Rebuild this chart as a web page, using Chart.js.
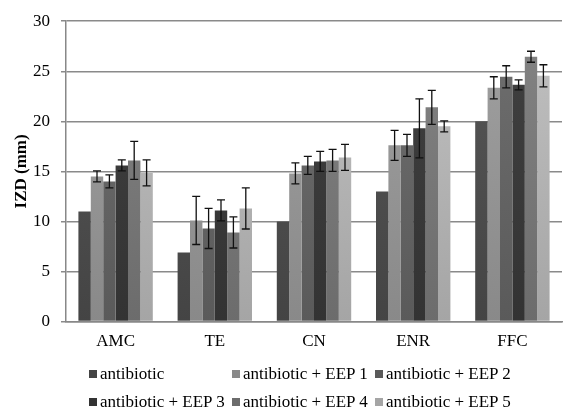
<!DOCTYPE html>
<html>
<head>
<meta charset="utf-8">
<script src="https://cdn.jsdelivr.net/npm/chart.js@4.4.0/dist/chart.umd.min.js"></script>
<style>
  body { margin: 0; background: #fff; }
  #wrap { position: relative; width: 583px; height: 409px; overflow: hidden; }
  #legend { position: absolute; left: 89px; top: 360px; display: grid;
    grid-template-columns: 143px 143px 143px;
    font-family: "Liberation Serif", serif; font-size: 17px; color: #000; }
  #legend span { white-space: nowrap; line-height: 28px; }
  #legend i { display: inline-block; width: 8px; height: 8px; margin-right: 3px; vertical-align: 1px; }
</style>
</head>
<body>
<div id="wrap">
  <canvas id="chart" width="583" height="409"></canvas>
  <div id="legend"></div>
</div>
<script>
// drugs on the x axis
var drugs = ['AMC', 'TE', 'CN', 'ENR', 'FFC'];
var series = ['antibiotic', 'antibiotic + EEP 1', 'antibiotic + EEP 2',
              'antibiotic + EEP 3', 'antibiotic + EEP 4', 'antibiotic + EEP 5'];

// IZD (mm) per series, order AMC, TE, CN, ENR, FFC
var antibiotic = [11.0, 6.9, 10.0, 13.0, 20.0];
var eep1 = [14.5, 10.1, 14.8, 17.6, 23.35];
var eep2 = [14.0, 9.3, 15.6, 17.6, 24.45];
var eep3 = [15.6, 11.1, 16.0, 19.3, 23.65];
var eep4 = [16.1, 8.9, 16.1, 21.4, 26.45];
var eep5 = [14.85, 11.3, 16.4, 19.5, 24.55];

// error (+/-), no bar for plain antibiotic
var err1 = [0.55, 2.4, 1.05, 1.5, 1.1];
var err2 = [0.65, 2.0, 0.9, 1.1, 1.1];
var err3 = [0.55, 1.05, 1.0, 2.95, 0.5];
var err4 = [1.9, 1.55, 1.1, 1.7, 0.55];
var err5 = [1.3, 2.05, 1.3, 0.55, 1.1];

var yTicks = [0, 5, 10, 15, 20, 25, 30];

var values = [antibiotic, eep1, eep2, eep3, eep4, eep5];
var errors = [null, err1, err2, err3, err4, err5];
var shades = [['#575757', '#444444'], ['#a1a1a1', '#898989'], ['#6f6f6f', '#5a5a5a'],
              ['#414141', '#333333'], ['#848484', '#6c6c6c'], ['#c1c1c1', '#a5a5a5']];

function fill(i) {
  return function(ctx) {
    var area = ctx.chart.chartArea;
    if (!area) return shades[i][0];
    var g = ctx.chart.ctx.createLinearGradient(0, area.top, 0, area.bottom);
    g.addColorStop(0, shades[i][0]);
    g.addColorStop(1, shades[i][1]);
    return g;
  };
}

var errorBars = {
  id: 'errorBars',
  afterDatasetsDraw: function(chart) {
    var c = chart.ctx, y = chart.scales.y;
    c.save();
    c.strokeStyle = '#111';
    c.lineWidth = 1.3;
    chart.data.datasets.forEach(function(ds, di) {
      var e = errors[di];
      if (!e) return;
      chart.getDatasetMeta(di).data.forEach(function(bar, k) {
        var v = ds.data[k];
        var top = y.getPixelForValue(v + e[k]), bot = y.getPixelForValue(v - e[k]);
        c.beginPath();
        c.moveTo(bar.x, top); c.lineTo(bar.x, bot);
        c.moveTo(bar.x - 4, top); c.lineTo(bar.x + 4, top);
        c.moveTo(bar.x - 4, bot); c.lineTo(bar.x + 4, bot);
        c.stroke();
      });
    });
    c.restore();
  }
};

var chart = new Chart(document.getElementById('chart'), {
  type: 'bar',
  data: {
    labels: drugs,
    datasets: series.map(function(name, i) {
      return { label: name, data: values[i], backgroundColor: fill(i), borderWidth: 0 };
    })
  },
  options: {
    responsive: false,
    animation: false,
    datasets: { bar: { barPercentage: 1, categoryPercentage: 0.75 } },
    layout: { padding: { top: 13, right: 21, bottom: 55, left: 4 } },
    plugins: { legend: { display: false }, tooltip: { enabled: false } },
    scales: {
      x: {
        grid: { display: false },
        border: { color: '#888', width: 1.5 },
        ticks: { color: '#000', padding: 2, font: { family: 'Liberation Serif', size: 17 } }
      },
      y: {
        min: 0, max: 30,
        afterBuildTicks: function(s) { s.ticks = yTicks.map(function(v) { return { value: v }; }); },
        afterFit: function(s) { s.width = 62; },
        grid: { color: '#8a8a8a', lineWidth: 1.5, tickLength: 5 },
        border: { color: '#888', width: 1.5 },
        ticks: { color: '#000', padding: 11, font: { family: 'Liberation Serif', size: 17 } },
        title: { display: true, text: 'IZD (mm)', color: '#000', padding: { top: 7, bottom: 0 },
                 font: { family: 'Liberation Serif', size: 17, weight: 'bold' } }
      }
    }
  },
  plugins: [errorBars]
});

var legend = document.getElementById('legend');
series.forEach(function(name, i) {
  var s = document.createElement('span');
  s.innerHTML = '<i style="background:' + shades[i][1] + '"></i>' + name;
  legend.appendChild(s);
});
</script>
</body>
</html>
